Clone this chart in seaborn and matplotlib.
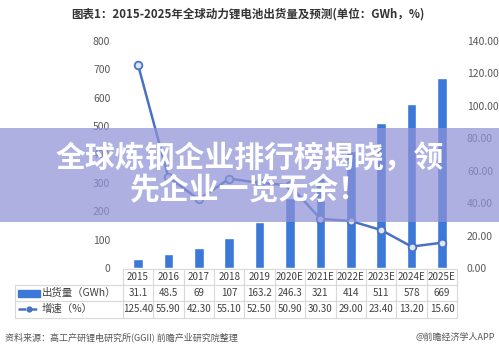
import numpy as np
import pandas as pd
import matplotlib
matplotlib.use("Agg")
import matplotlib.pyplot as plt
from matplotlib.patches import Rectangle
from matplotlib.lines import Line2D
import seaborn as sns

years = ["2015", "2016", "2017", "2018", "2019", "2020E", "2021E", "2022E", "2023E", "2024E", "2025E"]
shipments = [31.1, 48.5, 69, 107, 163.2, 246.3, 321, 414, 511, 578, 669]
shipment_labels = ["31.1", "48.5", "69", "107", "163.2", "246.3", "321", "414", "511", "578", "669"]
growth = [125.40, 55.90, 42.30, 55.10, 52.50, 50.90, 30.30, 29.00, 23.40, 13.20, 15.60]
left_ticks = [0, 100, 200, 300, 400, 500, 600, 700, 800]
right_ticks = [0, 20, 40, 60, 80, 100, 120, 140]

sns.set_theme(style="white")
plt.rcParams['font.family'] = ['Noto Sans CJK SC', 'DejaVu Sans']

BAR = "#3b78d8"
LINE = "#4a72c4"
GRID = "#d9d9d9"
TXT = "#404040"

df = pd.DataFrame({"year": years, "ship": shipments, "growth": growth})

W, H = 499, 352
fig = plt.figure(figsize=(W / 100, H / 100), dpi=100)
fig.patch.set_facecolor("white")

def fx(px):
    return px / W

def fy(py):
    return 1 - py / H

ax_l, ax_r, ax_t, ax_b = 122.8, 457.2, 41, 268
ax = fig.add_axes([fx(ax_l), fy(ax_b), fx(ax_r - ax_l), fy(ax_t) - fy(ax_b)])
ax.set_facecolor("none")
sns.barplot(data=df, x="year", y="ship", color=BAR, width=0.32, saturation=1, ax=ax)
ax.set_xlim(-0.5, len(years) - 0.5)
ax.set_ylim(0, 800)
ax.set_yticks(left_ticks)
ax.set_yticklabels([str(t) for t in left_ticks])
ax.tick_params(axis="y", length=0, pad=9, labelsize=7.5, labelcolor="#595959")
ax.set_xticks([])
ax.set_xlabel("")
ax.set_ylabel("")
for s in ax.spines.values():
    s.set_visible(False)

ax2 = ax.twinx()
sns.lineplot(x=np.arange(len(years)), y=df["growth"], color=LINE, linewidth=1.8,
             marker="o", markersize=5.5, markerfacecolor="#dbe6f7",
             markeredgecolor=LINE, markeredgewidth=1.3, ax=ax2)
ax2.set_ylim(0, 140)
ax2.set_yticks(right_ticks)
ax2.set_yticklabels([f"{t:.2f}" for t in right_ticks])
ax2.tick_params(axis="y", length=0, pad=7, labelsize=7.5, labelcolor="#595959")
ax2.set_ylabel("")
for s in ax2.spines.values():
    s.set_visible(False)

# Data table below
colw = (ax_r - ax_l) / len(years)
xs = [ax_l + colw * (i + 0.5) for i in range(len(years))]
y_year, y_ship, y_gr = 277, 293, 309
hl = [(269, ax_l), (285, 15), (301, 15), (318, 15)]
for yy, x0 in hl:
    fig.add_artist(Line2D([fx(x0), fx(ax_r)], [fy(yy), fy(yy)], color=GRID, lw=0.8))
for i in range(len(years) + 1):
    xx = ax_l + colw * i
    fig.add_artist(Line2D([fx(xx), fx(xx)], [fy(269), fy(318)], color=GRID, lw=0.8))
fig.add_artist(Line2D([fx(15), fx(15)], [fy(285), fy(318)], color=GRID, lw=0.8))

for i, x in enumerate(xs):
    fig.text(fx(x), fy(y_year), years[i], ha="center", va="center", fontsize=7.1, color=TXT)
    fig.text(fx(x), fy(y_ship), shipment_labels[i], ha="center", va="center", fontsize=7.1, color=TXT)
    fig.text(fx(x), fy(y_gr), f"{growth[i]:.2f}", ha="center", va="center", fontsize=7.1, color=TXT)

fig.add_artist(Rectangle((fx(18), fy(y_ship + 3.5)), fx(22), fy(y_ship - 3.5) - fy(y_ship + 3.5),
                         color=BAR, transform=fig.transFigure))
fig.text(fx(42), fy(y_ship), "出货量（GWh）", ha="left", va="center", fontsize=7.5, color=TXT)
fig.add_artist(Line2D([fx(18), fx(40)], [fy(y_gr), fy(y_gr)], color=LINE, lw=1.8, ls=(0, (3, 1.5))))
fig.add_artist(Line2D([fx(29)], [fy(y_gr)], color=LINE, marker="o", markersize=3.5, lw=0))
fig.text(fx(42), fy(y_gr), "增速（%）", ha="left", va="center", fontsize=7.5, color=TXT)

# Title
fig.text(fx(248), fy(14), "图表1：2015-2025年全球动力锂电池出货量及预测(单位：GWh，%)",
         ha="center", va="center", fontsize=8.3, fontweight="bold", color="#333333")

# Source line
fig.text(fx(5), fy(337), "资料来源：高工产研锂电研究所(GGII) 前瞻产业研究院整理",
         ha="left", va="center", fontsize=6.5, color="#555555")
fig.text(fx(495), fy(337), "@前瞻经济学人APP", ha="right", va="center", fontsize=6.5, color="#555555")

# Overlay banner
fig.add_artist(Rectangle((0, fy(222)), 1, fy(128) - fy(222), transform=fig.transFigure,
                         facecolor="#8f92d8", alpha=0.72, edgecolor="none", zorder=10))
fig.text(0.5, fy(158), "全球炼钢企业排行榜揭晓，领", ha="center", va="center",
         fontsize=21.5, fontweight="heavy", color="white", zorder=11)
fig.text(0.5, fy(190), "先企业一览无余！", ha="center", va="center",
         fontsize=21.5, fontweight="heavy", color="white", zorder=11)

fig.savefig("out.png", dpi=100)
